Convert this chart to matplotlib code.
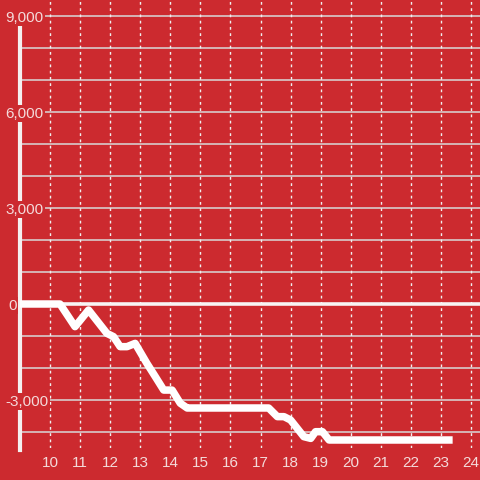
import matplotlib.pyplot as plt
import matplotlib.transforms as mtransforms

# values
hours = [9.0, 10.33, 10.83, 11.28, 11.89, 12.11, 12.33, 12.56, 12.83, 13.22, 13.5,
         13.78, 14.06, 14.33, 14.56, 14.67, 17.27, 17.56, 17.78, 18.0, 18.22,
         18.44, 18.67, 18.83, 19.06, 19.28, 23.39]
balance = [0, 0, -708, -188, -917, -1020, -1333, -1333, -1230, -1855, -2270,
           -2690, -2690, -3100, -3250, -3250, -3250, -3520, -3520, -3625, -3885,
           -4146, -4200, -3990, -3990, -4250, -4250]
x_ticks = list(range(10, 25))
y_ticks = [-3000, 0, 3000, 6000, 9000]
y_grid = list(range(-4000, 9001, 1000))

bg = '#cc2a2f'
txt = '#f4dada'

fig = plt.figure(figsize=(4.8, 4.8), dpi=100, facecolor=bg)
ax = fig.add_axes([20 / 480, 1 - 448 / 480, 460 / 480, 448 / 480])
ax.set_facecolor(bg)
ax.set_xlim(9, 24.3)
ax.set_ylim(-4500, 9500)

for y in y_grid:
    if y == 0:
        continue
    ax.axhline(y, color='#d9d9d9', lw=1.1, zorder=1)
for x in x_ticks:
    ax.axvline(x, color='#f0f0f0', lw=1, ls=(0, (2, 2.5)), zorder=1)
ax.axhline(0, color='#f8f4f4', lw=2.6, zorder=2)

ax.plot(hours, balance, color='white', lw=5.4, solid_joinstyle='round',
        solid_capstyle='butt', zorder=3, clip_on=False)

for s in ['top', 'right', 'bottom']:
    ax.spines[s].set_visible(False)
ax.spines['left'].set_color('#f4f0f0')
ax.spines['left'].set_linewidth(3)
ax.spines['left'].set_bounds(-4550, 8750)
ax.spines['left'].set_zorder(2)

ax.set_xticks(x_ticks)
ax.set_xticklabels([str(x) for x in x_ticks])
ax.tick_params(axis='x', length=0, pad=6, labelcolor=txt, labelsize=11)
ax.set_yticks([])
for lab in ax.get_xticklabels():
    lab.set_family('Liberation Sans')

trans = mtransforms.blended_transform_factory(ax.transAxes, ax.transData)
for y in y_ticks:
    xpos = -12 / 460 if y == 0 else -15 / 460
    ax.text(xpos, y, f'{y:,}', transform=trans, ha='left', va='center_baseline',
            color=txt, fontsize=11, family='Liberation Sans', zorder=5,
            clip_on=False,
            bbox=dict(boxstyle='square,pad=0.12', fc=bg, ec='none'))

fig.savefig('out.png', dpi=100, facecolor=bg)
